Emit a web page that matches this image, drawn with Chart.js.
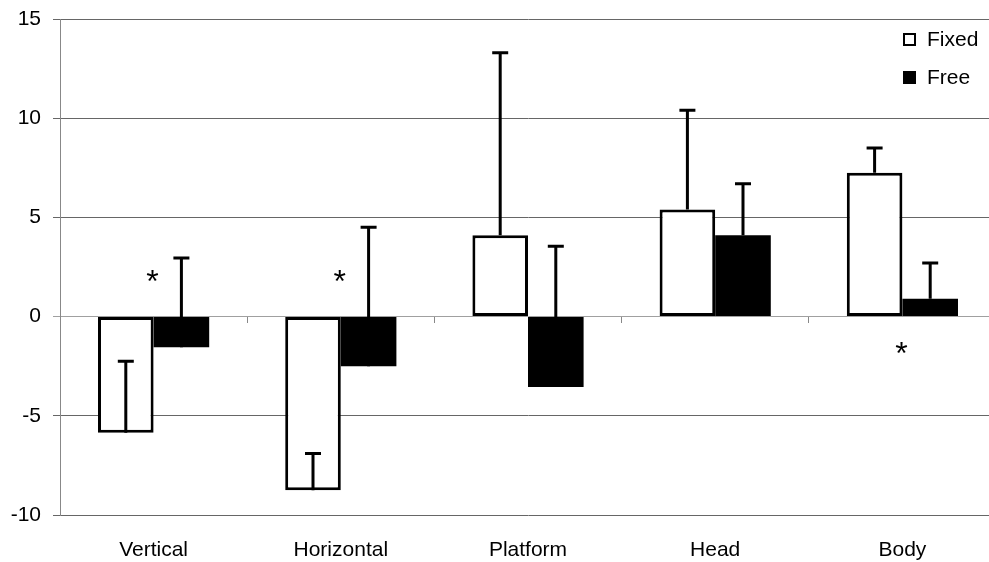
<!DOCTYPE html>
<html>
<head>
<meta charset="utf-8">
<script src="https://cdn.jsdelivr.net/npm/chart.js@4"></script>
<style>
    html, body { margin: 0; padding: 0; background: #fff; overflow: hidden; }
    #wrap { position: relative; width: 1000px; height: 562px; }
</style>
</head>
<body>
<div id="wrap"><canvas id="chart"></canvas></div>
<script>
// chart data
const categories = ['Vertical', 'Horizontal', 'Platform', 'Head', 'Body'];
const fixedValues = [-5.85, -8.75, 4.1, 5.4, 7.25];
const fixedErrors = [3.6, 1.85, 9.2, 5.0, 1.25];
const freeValues = [-1.55, -2.5, -3.55, 4.1, 0.9];
const freeErrors = [4.5, 7.0, 7.1, 2.6, 1.8];
const yTicks = [-10, -5, 0, 5, 10, 15];
// significance markers (category, y value)
const starCategories = ['Vertical', 'Horizontal', 'Body'];
const starValues = [2.2, 2.2, -1.45];

const FONT = '"Liberation Sans", Arial, Helvetica, sans-serif';

// upward-only error bars with a cap
const errorBarPlugin = {
    id: 'errorBars',
    afterDatasetsDraw(chart) {
        const ctx = chart.ctx;
        const yScale = chart.scales.y;
        ctx.save();
        ctx.strokeStyle = '#000';
        ctx.lineWidth = 3;
        chart.data.datasets.forEach((ds, i) => {
            const meta = chart.getDatasetMeta(i);
            meta.data.forEach((bar, j) => {
                const top = yScale.getPixelForValue(ds.data[j] + ds.errors[j]);
                ctx.beginPath();
                ctx.moveTo(bar.x, bar.y);
                ctx.lineTo(bar.x, top);
                ctx.moveTo(bar.x - 8, top);
                ctx.lineTo(bar.x + 8, top);
                ctx.stroke();
            });
        });
        ctx.restore();
    }
};

// asterisks for significant differences
const starPlugin = {
    id: 'stars',
    afterDatasetsDraw(chart) {
        const ctx = chart.ctx;
        const xScale = chart.scales.x;
        const yScale = chart.scales.y;
        const size = 32;
        ctx.save();
        ctx.fillStyle = '#000';
        ctx.font = size + 'px ' + FONT;
        ctx.textAlign = 'center';
        ctx.textBaseline = 'alphabetic';
        starCategories.forEach((cat, k) => {
            const x = xScale.getPixelForValue(categories.indexOf(cat)) - 1;
            const y = yScale.getPixelForValue(starValues[k]);
            ctx.fillText('*', x, y + size * 0.58);
        });
        ctx.restore();
    }
};

// legend in the top right corner of the plot
const boxLegendPlugin = {
    id: 'boxLegend',
    afterDraw(chart) {
        const ctx = chart.ctx;
        const area = chart.chartArea;
        const x = area.right - 93;
        let y = area.top + 27;
        ctx.save();
        ctx.font = '21px ' + FONT;
        ctx.textBaseline = 'alphabetic';
        ctx.textAlign = 'left';
        chart.data.datasets.forEach((ds) => {
            ctx.fillStyle = ds.backgroundColor;
            ctx.fillRect(x, y - 13, 13, 13);
            ctx.strokeStyle = '#000';
            ctx.lineWidth = 2;
            ctx.strokeRect(x + 1, y - 12, 11, 11);
            ctx.fillStyle = '#000';
            ctx.fillText(ds.label, x + 24, y);
            y += 38;
        });
        ctx.restore();
    }
};

const ctx = document.getElementById('chart').getContext('2d');
new Chart(ctx, {
    type: 'bar',
    data: {
        labels: categories,
        datasets: [{
            label: 'Fixed',
            data: fixedValues,
            errors: fixedErrors,
            backgroundColor: '#ffffff',
            borderColor: '#000000',
            borderWidth: 3,
            borderSkipped: false
        }, {
            label: 'Free',
            data: freeValues,
            errors: freeErrors,
            backgroundColor: '#000000',
            borderColor: '#000000',
            borderWidth: 0
        }]
    },
    options: {
        responsive: true,
        maintainAspectRatio: false,
        animation: false,
        categoryPercentage: 0.594,
        barPercentage: 1.0,
        layout: {
            padding: { top: 19, right: 4, left: 0, bottom: 0 }
        },
        plugins: {
            legend: { display: false },
            tooltip: { enabled: false }
        },
        scales: {
            x: {
                grid: { display: false, drawTicks: false },
                border: { display: false },
                ticks: {
                    color: '#000',
                    padding: 23,
                    font: { family: FONT, size: 21 }
                },
                afterFit(scale) {
                    scale.height = 47;
                    scale.paddingLeft = 0;
                    scale.paddingRight = 0;
                }
            },
            xZero: {
                type: 'category',
                position: { y: 0 },
                grid: {
                    drawOnChartArea: false,
                    drawTicks: true,
                    tickLength: 6,
                    offset: true,
                    color: '#888'
                },
                border: { display: false },
                ticks: { display: false }
            },
            y: {
                min: yTicks[0],
                max: yTicks[yTicks.length - 1],
                afterBuildTicks(scale) {
                    scale.ticks = yTicks.map(v => ({ value: v }));
                },
                grid: {
                    color: (c) => c.tick && c.tick.value === 0 ? '#a0a0a0' : '#666',
                    lineWidth: 1,
                    drawTicks: true,
                    tickLength: 7
                },
                border: { display: true, color: '#888', width: 1 },
                ticks: {
                    color: '#000',
                    padding: 12,
                    font: { family: FONT, size: 21 }
                },
                afterFit(scale) {
                    scale.width = 60;
                    scale.paddingTop = 0;
                    scale.paddingBottom = 0;
                }
            }
        }
    },
    plugins: [errorBarPlugin, starPlugin, boxLegendPlugin]
});
</script>
</body>
</html>
